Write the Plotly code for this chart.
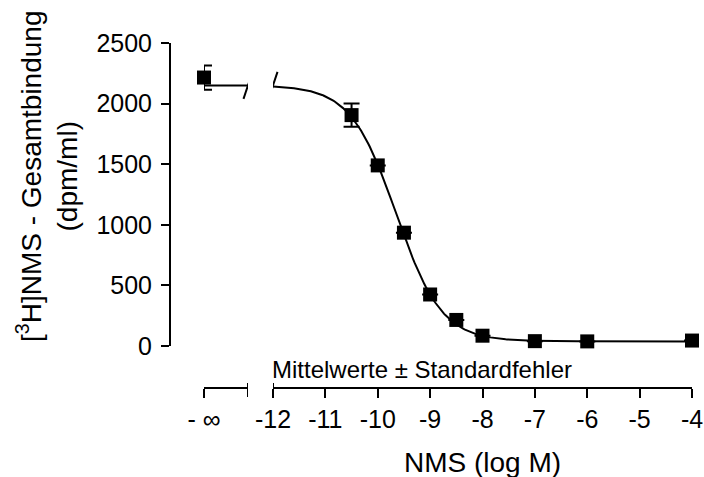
import plotly.graph_objects as go
import numpy as np

# ---- data ----
log_conc = [-10.5, -10.0, -9.5, -9.0, -8.5, -8.0, -7.0, -6.0, -4.0]
binding = [1905, 1490, 935, 425, 215, 85, 40, 38, 45]
binding_err = [95, 0, 0, 0, 0, 0, 0, 0, 0]
control_label = "- ∞"
control_value = [2215]
control_err = [100]

# fitted sigmoid parameters
fit_top = 2150
fit_bottom = 38
fit_log_ic50 = -9.65
fit_hill = 1.0

x_tick_vals = [-12, -11, -10, -9, -8, -7, -6, -5, -4]
x_tick_text = ["-12", "-11", "-10", "-9", "-8", "-7", "-6", "-5", "-4"]
y_tick_vals = [0, 500, 1000, 1500, 2000, 2500]

FONT = "Liberation Sans, Arial, sans-serif"

# ---- layout geometry (pixels) ----
W, H = 704, 477
L, R, T, B = 170, 12, 43, 89
pw = W - L - R
ph = H - T - B
def px_x(p):
    return (p - L) / pw
def px_y(p):
    return 1 - (p - T) / ph

y0_pix = 346
ydom0 = px_y(y0_pix)

curve_x = np.linspace(-12, -4, 300)
curve_y = fit_bottom + (fit_top - fit_bottom) / (1 + 10 ** ((curve_x - fit_log_ic50) * fit_hill))

fig = go.Figure()

# left segment: control (no NMS)
fig.add_trace(go.Scatter(x=[0, 1], y=[fit_top, fit_top], mode="lines",
                         line=dict(color="black", width=2),
                         xaxis="x", yaxis="y", showlegend=False, hoverinfo="skip"))
fig.add_trace(go.Scatter(x=[0], y=control_value, mode="markers",
                         marker=dict(symbol="square", size=14, color="black"),
                         error_y=dict(type="data", array=control_err, color="black",
                                      thickness=2, width=8),
                         cliponaxis=False, xaxis="x", yaxis="y", showlegend=False))

# right segment: fit curve and data
fig.add_trace(go.Scatter(x=curve_x, y=curve_y, mode="lines",
                         line=dict(color="black", width=2),
                         xaxis="x2", yaxis="y", showlegend=False, hoverinfo="skip"))
fig.add_trace(go.Scatter(x=log_conc, y=binding, mode="markers",
                         marker=dict(symbol="square", size=14, color="black"),
                         error_y=dict(type="data", array=binding_err, color="black",
                                      thickness=2, width=8),
                         cliponaxis=False, xaxis="x2", yaxis="y", showlegend=False))

axis_common = dict(showline=True, linecolor="black", linewidth=2, ticks="outside",
                   tickcolor="black", tickwidth=2, showgrid=False, zeroline=False,
                   automargin=False,
                   tickfont=dict(family=FONT, size=25, color="black"))

fig.update_layout(
    width=W, height=H,
    margin=dict(l=L, r=R, t=T, b=B),
    plot_bgcolor="white", paper_bgcolor="white",
    font=dict(family=FONT, color="black"),
    xaxis=dict(domain=[px_x(204), px_x(248)], range=[-0.0001, 1], anchor="free", position=0,
               tickvals=[0], ticktext=[control_label], ticklen=9, **axis_common),
    xaxis2=dict(domain=[px_x(273), 1], range=[-12, -4], anchor="free", position=0,
                tickvals=x_tick_vals, ticktext=x_tick_text, ticklen=9, **axis_common),
    yaxis=dict(domain=[ydom0, 1], range=[0, 2500], anchor="free", position=0,
               tickvals=y_tick_vals, ticklen=8, ticklabelstandoff=4, **axis_common),
)

# axis break marks
brk = dict(type="line", line=dict(color="black", width=2), yref="paper",
           ysizemode="pixel", yanchor=0, x0=0, x1=0, xsizemode="pixel")
fig.add_shape(xref="x", xanchor=1, y0=5, y1=-9, **brk)
fig.add_shape(xref="x2", xanchor=-12, y0=5, y1=-7, **brk)
# curve break slashes
sl = dict(type="line", line=dict(color="black", width=2), yref="y",
          ysizemode="pixel", xsizemode="pixel", x0=-4.5, x1=4.5, y0=-13.5, y1=13.5)
fig.add_shape(xref="x", xanchor=1, yanchor=fit_top, **sl)
fig.add_shape(xref="x2", xanchor=-12, yanchor=fit_top, **sl)

# texts
fig.add_annotation(text="Mittelwerte ± Standardfehler", xref="paper", yref="paper",
                   x=px_x(270), y=px_y(369), xanchor="left", yanchor="middle",
                   showarrow=False, font=dict(family=FONT, size=24, color="black"))
fig.add_annotation(text="NMS (log M)", xref="paper", yref="paper",
                   x=px_x(482), y=px_y(462), xanchor="center", yanchor="middle",
                   showarrow=False, font=dict(family=FONT, size=28, color="black"))
fig.add_annotation(text="[<sup>3</sup>H]NMS - Gesamtbindung<br>(dpm/ml)", xref="paper", yref="paper",
                   x=px_x(47), y=px_y(177), xanchor="center", yanchor="middle", textangle=-90,
                   showarrow=False, font=dict(family=FONT, size=28, color="black"))

fig.write_html("out.html", config={"displayModeBar": False},
               post_script="document.body.style.margin='0px';document.body.style.overflow='hidden';")
